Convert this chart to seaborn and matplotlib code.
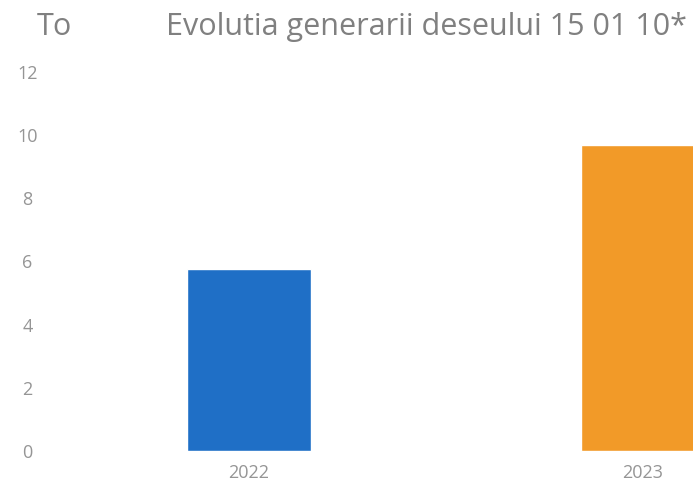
import matplotlib
matplotlib.use("Agg")
import matplotlib.pyplot as plt
import seaborn as sns
import pandas as pd

years = ["2022", "2023"]
values = [5.75, 9.7]
colors = ["#1F6FC6", "#F29A28"]
yticks = [0, 2, 4, 6, 8, 10, 12]
title = "Evolutia generarii deseului 15 01 10*"
unit = "To"

sns.set_theme(style="white")
plt.rcParams["font.family"] = ["Open Sans", "DejaVu Sans"]

df = pd.DataFrame({"year": years, "value": values})

fig = plt.figure(figsize=(6.93, 4.91), dpi=100)
W, H = 693, 491
left_px, right_px = 40, 693
top_px, bot_px = 72, 451
ax = fig.add_axes([left_px / W, (H - bot_px) / H, (right_px - left_px) / W, (bot_px - top_px) / H])

sns.barplot(data=df, x="year", y="value", hue="year", palette=colors,
            width=0.315, legend=False, ax=ax, saturation=1)

c0, step = 249, 394
ax.set_xlim((left_px - c0) / step, (right_px - c0) / step)
ax.set_ylim(0, 12)
ax.set_yticks(yticks)
ax.set_yticklabels([str(t) for t in yticks])
for s in ax.spines.values():
    s.set_visible(False)
ax.set_xlabel("")
ax.set_ylabel("")
ax.tick_params(axis="both", length=0, colors="#959595", labelsize=13)
ax.tick_params(axis="x", pad=9)
for lab in ax.get_yticklabels():
    lab.set_horizontalalignment("center")
ax.tick_params(axis="y", pad=9)

fig.text(37 / W, 1 - 35 / H, unit, fontsize=22, color="#808080", va="baseline", ha="left")
fig.text(166 / W, 1 - 35 / H, title, fontsize=22, color="#808080", va="baseline", ha="left")

fig.savefig("out.png", dpi=100)
